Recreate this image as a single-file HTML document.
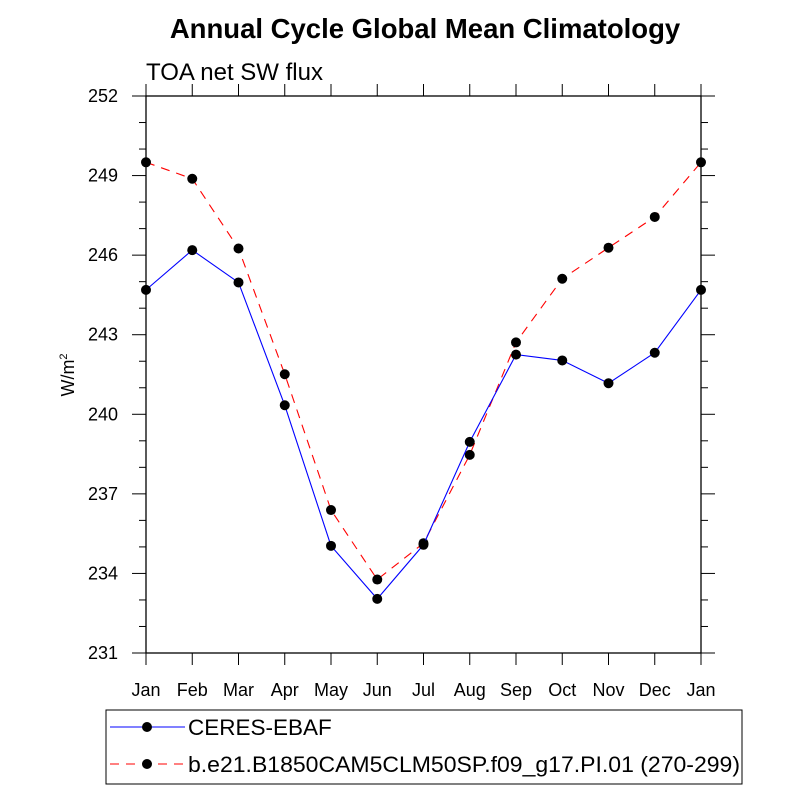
<!DOCTYPE html>
<html><head><meta charset="utf-8"><style>
body{margin:0;background:#fff;}
svg text{font-family:"Liberation Sans",sans-serif;}
</style></head><body>
<svg id="chart" width="800" height="800">
<text x="425" y="38" text-anchor="middle" font-size="27.5" font-weight="bold">Annual Cycle Global Mean Climatology</text>
<text x="146" y="80" font-size="24">TOA net SW flux</text>
<text transform="translate(74,375) rotate(-90)" text-anchor="middle" font-size="18">W/m<tspan font-size="11" dy="-7">2</tspan></text>
<g id="axes"></g>
<g id="series"></g>
<g>
<rect x="106" y="710" width="636" height="74" fill="none" stroke="#000" stroke-width="1"/>
<line x1="110" y1="727" x2="185" y2="727" stroke="#0000ff" stroke-width="1"/>
<circle cx="147" cy="727" r="5" fill="#000"/>
<text x="188" y="735" font-size="22.5">CERES-EBAF</text>
<line x1="110" y1="764" x2="185" y2="764" stroke="#ff0000" stroke-width="1" stroke-dasharray="9,7"/>
<circle cx="147" cy="764" r="5" fill="#000"/>
<text x="188" y="772" font-size="22.5" textLength="552" lengthAdjust="spacingAndGlyphs">b.e21.B1850CAM5CLM50SP.f09_g17.PI.01 (270-299)</text>
</g>
</svg>
<script>
const months=["Jan","Feb","Mar","Apr","May","Jun","Jul","Aug","Sep","Oct","Nov","Dec","Jan"];
const ceres=[244.69,246.19,244.97,240.34,235.04,233.04,235.08,238.96,242.25,242.03,241.17,242.32,244.69];
const model=[249.50,248.88,246.25,241.51,236.39,233.77,235.14,238.47,242.71,245.11,246.28,247.44,249.50];
const yTicks=[231,234,237,240,243,246,249,252];
const L=146,R=701,T=96,B=653,yMin=231,yMax=252;
const NS="http://www.w3.org/2000/svg";
function xs(i){return L+(R-L)*i/(months.length-1);}
function ys(v){return B-(v-yMin)/(yMax-yMin)*(B-T);}
function mk(tag,attrs,parent){const e=document.createElementNS(NS,tag);for(const k in attrs)e.setAttribute(k,attrs[k]);parent.appendChild(e);return e;}
const ax=document.getElementById('axes');
const frame=mk('rect',{x:L,y:T,width:R-L,height:B-T,fill:'none',stroke:'#000','stroke-width':1.3},ax);


for(let v=yMin;v<=yMax;v++){
  const y=ys(v);const major=(v-yMin)%3===0;const len=major?14:7;
  mk('line',{x1:L-len,y1:y,x2:L,y2:y,stroke:'#000','stroke-width':1},ax);
  mk('line',{x1:R,y1:y,x2:R+len,y2:y,stroke:'#000','stroke-width':1},ax);
}
yTicks.forEach(v=>{
  const t=mk('text',{x:L-28,y:ys(v)+6,'text-anchor':'end','font-size':18},ax);
  t.textContent=v;
  
  
});
months.forEach((m,i)=>{
  const x=xs(i);
  mk('line',{x1:x,y1:T-12,x2:x,y2:T,stroke:'#000','stroke-width':1},ax);
  mk('line',{x1:x,y1:B,x2:x,y2:B+12,stroke:'#000','stroke-width':1},ax);
  const t=mk('text',{x:x,y:B+43,'text-anchor':'middle','font-size':18},ax);
  t.textContent=m;
  
  
});
const sg=document.getElementById('series');
function draw(vals,color,dash,name){
  const pts=vals.map((v,i)=>xs(i)+','+ys(v)).join(' ');
  const pl=mk('polyline',{points:pts,fill:'none',stroke:color,'stroke-width':1.1,'stroke-dasharray':dash},sg);
  
  
  vals.forEach((v,i)=>{
    const c=mk('circle',{cx:xs(i),cy:ys(v),r:5,fill:'#000'},sg);
    
    
  });
}
draw(model,'#ff0000','9,7','model');
draw(ceres,'#0000ff','none','ceres');
</script>
</body></html>
